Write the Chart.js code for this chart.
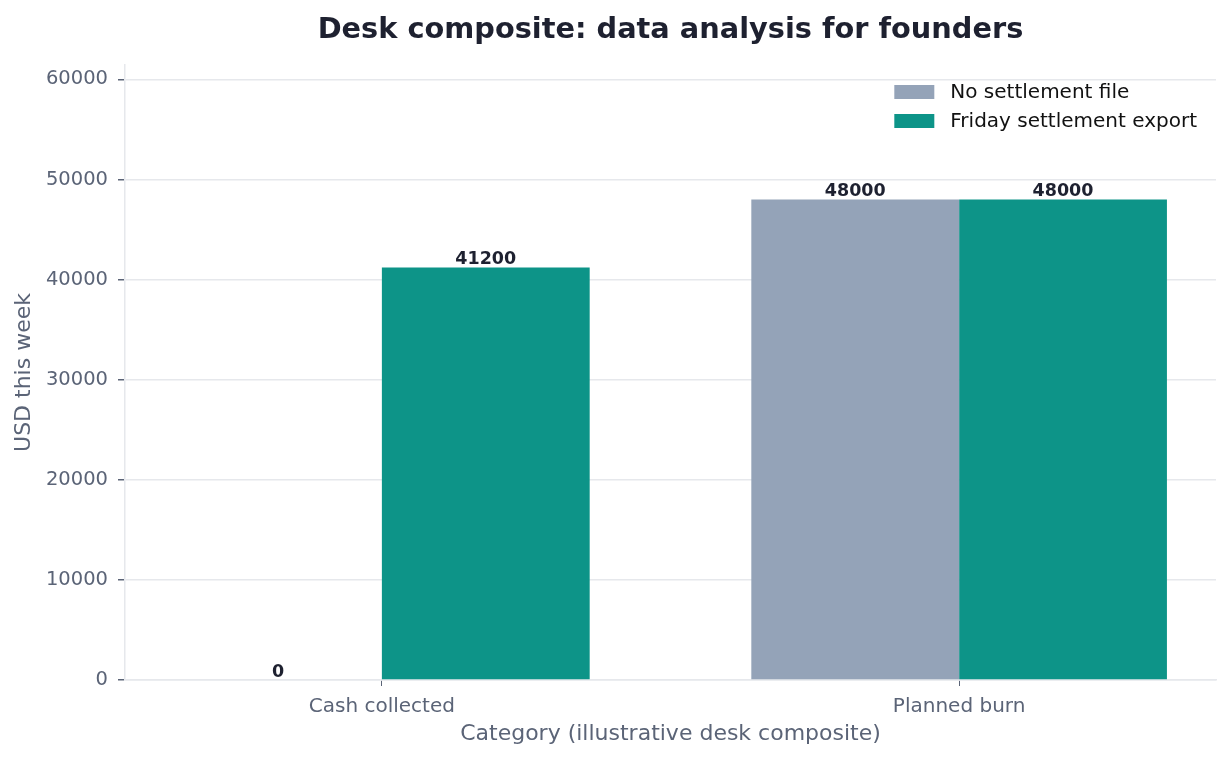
<!DOCTYPE html>
<html>
<head>
<meta charset="utf-8">
<script src="https://cdn.jsdelivr.net/npm/chart.js@4"></script>
<style>
  html, body { margin: 0; padding: 0; background: #ffffff; }
</style>
</head>
<body>
<canvas id="myChart" width="1231" height="760"></canvas>
<script>
// values
const categories = ["Cash collected", "Planned burn"];
const noSettlement = [0, 48000];
const fridayExport = [41200, 48000];
const seriesNames = ["No settlement file", "Friday settlement export"];
const yTicks = [0, 10000, 20000, 30000, 40000, 50000, 60000];
const yMax = 61440;
const chartTitle = "Desk composite: data analysis for founders";

const FONT = "'DejaVu Sans', sans-serif";
const tickGray = "#5b6477";
const lineGray = "#e6e8ec";

// title centred over the plot area (like matplotlib), not the canvas
const plotTitle = {
  id: "plotTitle",
  afterDraw(chart) {
    const ctx = chart.ctx;
    const area = chart.chartArea;
    ctx.save();
    ctx.font = "bold 28.8px " + FONT;
    ctx.fillStyle = "#1e2130";
    ctx.textAlign = "center";
    ctx.textBaseline = "middle";
    ctx.fillText(chartTitle, (area.left + area.right) / 2, 31);
    ctx.restore();
  }
};

// bold value labels above each bar
const valueLabels = {
  id: "valueLabels",
  afterDatasetsDraw(chart) {
    const ctx = chart.ctx;
    ctx.save();
    ctx.font = "bold 17.5px " + FONT;
    ctx.fillStyle = "#1e2130";
    ctx.textAlign = "center";
    ctx.textBaseline = "bottom";
    chart.data.datasets.forEach((ds, i) => {
      chart.getDatasetMeta(i).data.forEach((bar, j) => {
        ctx.fillText(String(ds.data[j].y), bar.x, bar.y + 1);
      });
    });
    ctx.restore();
  }
};

// legend drawn inside the plot, top right
const insideLegend = {
  id: "insideLegend",
  afterDraw(chart) {
    const ctx = chart.ctx;
    const area = chart.chartArea;
    ctx.save();
    ctx.font = "20px " + FONT;
    let maxW = 0;
    chart.data.datasets.forEach(ds => { maxW = Math.max(maxW, ctx.measureText(ds.label).width); });
    const x0 = area.right - 19 - maxW - 56;
    chart.data.datasets.forEach((ds, i) => {
      const cy = area.top + 27 + i * 29;
      ctx.fillStyle = ds.backgroundColor;
      ctx.fillRect(x0, cy - 7, 40, 14);
      ctx.fillStyle = "#111111";
      ctx.textAlign = "left";
      ctx.textBaseline = "middle";
      ctx.fillText(ds.label, x0 + 56, cy + 1);
    });
    ctx.restore();
  }
};

const ctx = document.getElementById("myChart");
const myChart = new Chart(ctx, {
  type: "bar",
  data: {
    datasets: [
      {
        label: seriesNames[0],
        data: noSettlement.map((v, i) => ({ x: i, y: v })),
        backgroundColor: "#94a3b8",
        borderWidth: 0,
      },
      {
        label: seriesNames[1],
        data: fridayExport.map((v, i) => ({ x: i, y: v })),
        backgroundColor: "#0d9488",
        borderWidth: 0,
      },
    ],
  },
  options: {
    responsive: false,
    animation: false,
    devicePixelRatio: 1,
    categoryPercentage: 0.72,
    barPercentage: 1.0,
    layout: { padding: { left: 0, right: 15, top: 65, bottom: 0 } },
    plugins: {
      legend: { display: false },
      tooltip: { enabled: false },
      title: { display: false },
    },
    scales: {
      x: {
        type: "linear",
        offset: false,
        min: -0.445,
        max: 1.445,
        afterBuildTicks: (scale) => { scale.ticks = categories.map((c, i) => ({ value: i })); },
        afterFit: (scale) => { scale.height = 80; },
        ticks: {
          color: tickGray,
          font: { family: FONT, size: 20 },
          padding: 9,
          maxRotation: 0,
          callback: (v) => categories[v],
        },
        grid: {
          offset: false,
          drawOnChartArea: false,
          drawTicks: true,
          tickLength: 6,
          tickColor: tickGray,
        },
        border: { color: lineGray, width: 1.5 },
        title: {
          display: true,
          text: "Category (illustrative desk composite)",
          color: tickGray,
          font: { family: FONT, size: 22 },
          padding: { top: 0, bottom: 13 },
        },
      },
      y: {
        min: 0,
        max: yMax,
        afterBuildTicks: (scale) => { scale.ticks = yTicks.map(v => ({ value: v })); },
        afterFit: (scale) => { scale.width = 125; },
        ticks: {
          color: tickGray,
          font: { family: FONT, size: 19.5 },
          padding: 10,
          callback: (v) => String(v),
        },
        grid: {
          color: lineGray,
          lineWidth: 1.5,
          drawTicks: true,
          tickLength: 7,
          tickColor: tickGray,
        },
        border: { color: lineGray, width: 1.5 },
        title: {
          display: true,
          text: "USD this week",
          color: tickGray,
          font: { family: FONT, size: 22 },
          padding: { top: 11, bottom: 0 },
        },
      },
    },
  },
  plugins: [plotTitle, valueLabels, insideLegend],
});
</script>
</body>
</html>
